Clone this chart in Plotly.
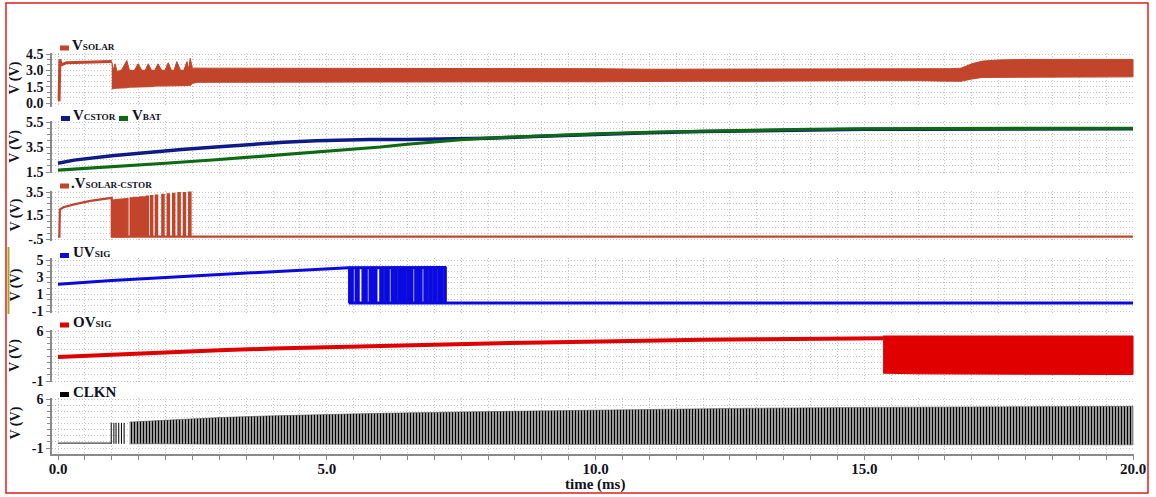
import plotly.graph_objects as go

# ---------------- data (time in ms, values in V) ----------------
# Panel 1: V_SOLAR
vsolar_t = [0.0, 0.02, 0.035, 0.06, 0.16, 0.4, 0.7, 1.0]
vsolar_v = [0.3, 0.3, 4.0, 3.5, 3.7, 3.72, 3.76, 3.8]
vsolar_band_t = [1.0, 1.03, 1.06, 1.10, 1.18, 1.28, 1.33, 1.42, 1.49, 1.56, 1.62, 1.68, 1.74, 1.80,
                 1.86, 1.93, 1.99, 2.05, 2.11, 2.16, 2.21, 2.28, 2.34, 2.40, 2.43, 2.46, 2.50, 2.6,
                 3.0, 4.0, 5.0, 6.0, 7.0, 8.0, 9.0, 10.0, 11.0, 12.0, 13.0, 14.0, 15.0, 16.0, 16.6,
                 16.8, 17.0, 17.2, 17.5, 18.0, 19.0, 20.0]
vsolar_band_hi = [3.8, 3.0, 3.6, 2.9, 3.0, 3.9, 3.0, 3.0, 3.6, 3.0, 3.0, 3.6, 3.0, 3.0,
                  3.6, 3.0, 3.0, 3.7, 3.0, 3.0, 3.8, 3.0, 3.0, 3.8, 3.1, 4.1, 3.2, 3.2,
                  3.2, 3.15, 3.15, 3.15, 3.15, 3.15, 3.15, 3.15, 3.1, 3.1, 3.1, 3.1, 3.1, 3.1, 3.15,
                  3.2, 3.6, 3.85, 3.95, 4.0, 4.0, 4.0]
vsolar_band_lo = [1.3, 1.3, 1.35, 1.35, 1.4, 1.4, 1.45, 1.5, 1.5, 1.5, 1.5, 1.5, 1.5, 1.55,
                  1.55, 1.55, 1.55, 1.55, 1.55, 1.55, 1.55, 1.55, 1.55, 1.6, 1.6, 1.6, 1.8, 1.9,
                  1.95, 1.95, 1.95, 1.95, 1.95, 1.95, 1.95, 1.95, 1.95, 2.0, 2.0, 2.0, 2.05, 2.05, 2.0,
                  2.0, 2.2, 2.35, 2.4, 2.4, 2.4, 2.4]

# Panel 2: V_CSTOR and V_BAT
vcstor_t = [0, 0.3, 1.0, 1.7, 2.3, 3.0, 3.6, 4.2, 4.8, 5.3, 5.8, 6.5, 7.2, 7.7, 8, 9, 10, 11,
            12, 13, 14, 15, 16, 17, 18, 19, 20]
vcstor_v = [2.2, 2.45, 2.8, 3.1, 3.3, 3.52, 3.72, 3.88, 4.0, 4.08, 4.1, 4.1, 4.12, 4.15, 4.2, 4.36,
            4.52, 4.64, 4.74, 4.82, 4.87, 4.91, 4.93, 4.94, 4.95, 4.95, 4.95]
vbat_t = [0, 1, 2, 3, 3.6, 4.5, 5.3, 6.0, 6.5, 7.0, 7.5, 8, 9, 10, 11, 12, 13, 14, 15, 16, 17,
          18, 19, 20]
vbat_v = [1.65, 1.9, 2.2, 2.5, 2.7, 3.0, 3.25, 3.5, 3.72, 3.92, 4.08, 4.22, 4.4, 4.55, 4.68,
          4.78, 4.86, 4.92, 4.96, 4.98, 5.0, 5.0, 5.0, 5.0]

# Panel 3: V_SOLAR-CSTOR
vsc_t = [0, 0.025, 0.035, 0.1, 0.3, 0.6, 1.0]
vsc_v = [-0.3, -0.3, 2.0, 2.2, 2.45, 2.75, 3.0]
vsc_low = -0.3
vsc_block_t = [1.0, 1.1, 1.2, 1.30]
vsc_block_hi = [2.8, 2.85, 2.9, 2.95]
vsc_pulse_t = [1.35, 1.41, 1.47, 1.53, 1.59, 1.65, 1.73, 1.82, 1.94, 2.04, 2.14, 2.24, 2.34, 2.44]
vsc_pulse_v = [2.95, 3.0, 3.0, 3.05, 3.05, 3.1, 3.15, 3.2, 3.25, 3.3, 3.35, 3.4, 3.4, 3.45]
vsc_pulse_w = 0.025

# Panel 4: UV_SIG
uv_t = [0, 0.5, 1, 2, 3, 4, 4.5, 5, 5.41]
uv_v = [2.15, 2.4, 2.6, 2.95, 3.3, 3.6, 3.8, 3.95, 4.1]
uv_high = 4.12
uv_low = -0.05
uv_high_end = 7.22
uv_bar_start = [5.41, 5.53, 5.66, 5.79, 5.99, 6.08, 6.20, 6.34, 6.49, 6.64, 6.81, 6.90, 6.98, 7.07, 7.18]
uv_bar_end = [5.49, 5.60, 5.75, 5.93, 6.05, 6.16, 6.31, 6.47, 6.60, 6.77, 6.88, 6.96, 7.05, 7.16, 7.22]

# Panel 5: OV_SIG
ov_t = [0, 1, 2, 3, 4, 5, 6, 7, 8, 9, 10, 11, 12, 13, 14, 15, 15.35]
ov_v = [2.35, 2.7, 3.0, 3.3, 3.55, 3.76, 3.95, 4.1, 4.25, 4.4, 4.55, 4.67, 4.77, 4.85, 4.92, 4.98, 5.0]
ov_band_t = [15.35, 16, 17, 18, 19, 20]
ov_band_hi = [5.3, 5.3, 5.3, 5.3, 5.3, 5.3]
ov_band_lo = [0.1, 0.0, -0.1, -0.1, -0.1, -0.1]

# Panel 6: CLKN
clk_base_t = [0, 0.99]
clk_base_v = [-0.3, -0.3]
clk_first_t = [0.99, 1.04, 1.08, 1.13, 1.18, 1.23]
clk_first_hi = 2.6
clk_first_lo = -0.4
clk_band_t = [1.33, 2, 3, 4, 5, 6, 7.5, 10, 12.5, 15, 17.5, 20]
clk_band_hi = [2.7, 3.0, 3.35, 3.6, 3.8, 3.95, 4.15, 4.45, 4.65, 4.8, 4.9, 4.95]
clk_band_lo = [-0.4, -0.4, -0.45, -0.45, -0.5, -0.5, -0.5, -0.5, -0.55, -0.55, -0.55, -0.55]

x_tickvals = [0, 5, 10, 15, 20]
x_ticktext = ["0.0", "5.0", "10.0", "15.0", "20.0"]

# ---------------- layout helpers ----------------
W, H = 1156, 497
ML, MR = 52, 22
PW = W - ML - MR
SERIF = "Liberation Serif"
TXT = "#111122"
GRID = "#c4c4c4"
AXC = "#8a8a8a"

C_SOLAR = "#c2452b"
C_CSTOR = "#0f1a8a"
C_BAT = "#0c6b12"
C_UV = "#0a0ae0"
C_OV = "#e00000"
C_CLK = "#000000"


def px2x(px):
    return (px - ML) / PW


def py2y(py):
    return 1 - py / H


fig = go.Figure()


def add(tr, row):
    tr.xaxis = "x" if row == 1 else f"x{row}"
    tr.yaxis = "y" if row == 1 else f"y{row}"
    tr.showlegend = False
    tr.hoverinfo = "skip"
    fig.add_trace(tr)


def band_poly(t, hi, lo):
    return list(t) + list(t)[::-1], list(hi) + list(lo)[::-1]


# Panel 1
add(go.Scatter(x=vsolar_t, y=vsolar_v, mode="lines", line=dict(color=C_SOLAR, width=3)), 1)
bx, by = band_poly(vsolar_band_t, vsolar_band_hi, vsolar_band_lo)
add(go.Scatter(x=bx, y=by, mode="lines", fill="toself", fillcolor=C_SOLAR,
               line=dict(color=C_SOLAR, width=1)), 1)

# Panel 2
add(go.Scatter(x=vcstor_t, y=vcstor_v, mode="lines", line=dict(color=C_CSTOR, width=3.5)), 2)
add(go.Scatter(x=vbat_t, y=vbat_v, mode="lines", line=dict(color=C_BAT, width=3.2)), 2)

# Panel 3
sx = list(vsc_t) + [vsc_block_t[0]]
sy = list(vsc_v) + [vsc_low]
for s, h in zip(vsc_pulse_t, vsc_pulse_v):
    sx += [s, s, s + vsc_pulse_w, s + vsc_pulse_w]
    sy += [vsc_low, h, h, vsc_low]
sx += [20]
sy += [vsc_low]
add(go.Scatter(x=sx, y=sy, mode="lines", line=dict(color=C_SOLAR, width=2.2)), 3)
bx, by = band_poly(vsc_block_t, vsc_block_hi, [vsc_low] * len(vsc_block_t))
add(go.Scatter(x=bx, y=by, mode="lines", fill="toself", fillcolor=C_SOLAR,
               line=dict(color=C_SOLAR, width=1.5)), 3)

# Panel 4
ux = list(uv_t) + [uv_high_end, None, uv_t[-1], 20]
uy = list(uv_v) + [uv_high, None, uv_low, uv_low]
add(go.Scatter(x=ux, y=uy, mode="lines", line=dict(color=C_UV, width=3)), 4)
barx, bary = [], []
for s, e in zip(uv_bar_start, uv_bar_end):
    barx += [s, e, e, s, s, None]
    bary += [uv_low, uv_low, uv_high, uv_high, uv_low, None]
add(go.Scatter(x=barx, y=bary, mode="lines", fill="toself", fillcolor=C_UV,
               line=dict(color=C_UV, width=1.5)), 4)

# Panel 5
add(go.Scatter(x=ov_t, y=ov_v, mode="lines", line=dict(color=C_OV, width=4)), 5)
bx, by = band_poly(ov_band_t, ov_band_hi, ov_band_lo)
add(go.Scatter(x=bx, y=by, mode="lines", fill="toself", fillcolor=C_OV,
               line=dict(color=C_OV, width=1)), 5)

# Panel 6
add(go.Scatter(x=clk_base_t, y=clk_base_v, mode="lines", line=dict(color="#444444", width=1.3)), 6)
cx, cy = [], []
for s in clk_first_t:
    cx += [s, s, None]
    cy += [clk_first_lo, clk_first_hi, None]
add(go.Scatter(x=cx, y=cy, mode="lines", line=dict(color=C_CLK, width=1)), 6)
bx, by = band_poly(clk_band_t, clk_band_hi, clk_band_lo)
add(go.Scatter(x=bx, y=by, mode="lines", fill="toself",
               fillpattern=dict(shape="|", size=3, solidity=0.35, fgcolor="#000000",
                                bgcolor="#9a9a9a", fillmode="replace"),
               line=dict(color="#555555", width=0.6)), 6)

# ---------------- axes ----------------
panels = [
    dict(a=((4.5, 54), (0.0, 103)), rng=[-0.35, 4.6], tv=[0, 1.5, 3, 4.5],
         tt=["0.0", "1.5", "3.0", "4.5"], g=0.5, g0=0),
    dict(a=((5.5, 122), (1.5, 172)), rng=[1.4, 5.6], tv=[1.5, 3.5, 5.5],
         tt=["1.5", "3.5", "5.5"], g=0.5, g0=1.5),
    dict(a=((3.5, 192), (-0.5, 239)), rng=[-0.7, 3.6], tv=[-0.5, 1.5, 3.5],
         tt=["-.5", "1.5", "3.5"], g=0.5, g0=-0.5),
    dict(a=((5, 260), (-1, 311)), rng=[-1.2, 5.2], tv=[-1, 1, 3, 5],
         tt=["-1", "1", "3", "5"], g=2 / 3, g0=-1),
    dict(a=((6, 331), (-1, 381)), rng=[-1.2, 6.2], tv=[-1, 6],
         tt=["-1", "6"], g=0.875, g0=-1),
    dict(a=((6, 399), (-1, 448)), rng=[-1.8, 6.2], tv=[-1, 6],
         tt=["-1", "6"], g=0.875, g0=-1),
]

X0, X1 = -0.1116, 20.018
layout = {}
for i, p in enumerate(panels, start=1):
    (va, pa), (vb, pb) = p["a"]
    sc = (pb - pa) / (vb - va)
    plo = pa + (p["rng"][0] - va) * sc
    phi = pa + (p["rng"][1] - va) * sc
    ykey = "yaxis" if i == 1 else f"yaxis{i}"
    xkey = "xaxis" if i == 1 else f"xaxis{i}"
    layout[ykey] = dict(
        domain=[py2y(plo), py2y(phi)], range=p["rng"], anchor="x" if i == 1 else f"x{i}",
        automargin=False,
        tickmode="array", tickvals=p["tv"], ticktext=p["tt"],
        tickfont=dict(family=SERIF, size=14, color=TXT, weight="bold"),
        showline=True, linecolor=AXC, linewidth=1.5, ticks="outside", ticklen=4, tickcolor=AXC,
        showgrid=True, gridcolor=GRID, griddash="1px,2px", gridwidth=1, zeroline=False,
        minor=dict(tickmode="linear", tick0=p["g0"], dtick=p["g"], showgrid=True, gridcolor=GRID,
                   griddash="1px,2px", ticks="outside", ticklen=3, tickcolor=AXC),
        fixedrange=True,
    )
    bottom = (i == len(panels))
    xa = dict(
        domain=[0, 1], range=[X0, X1], anchor="y" if i == 1 else f"y{i}",
        automargin=False,
        tickmode="array", tickvals=x_tickvals, ticktext=x_ticktext,
        showticklabels=bottom,
        tickfont=dict(family=SERIF, size=15, color=TXT, weight="bold"),
        showgrid=True, gridcolor=GRID, griddash="1px,2px", zeroline=False,
        showline=bottom, linecolor=AXC, linewidth=1.5,
        ticks="outside" if bottom else "", ticklen=5, tickcolor=AXC,
        ticklabelstandoff=-4 if bottom else 0,
        minor=dict(tickmode="linear", tick0=0, dtick=0.5, showgrid=True, gridcolor=GRID,
                   griddash="1px,2px", ticks="outside" if bottom else "", ticklen=5,
                   tickcolor=AXC),
        fixedrange=True,
    )
    if i > 1:
        xa["matches"] = "x"
    layout[xkey] = xa

# ---------------- annotations / shapes ----------------
annotations = []
shapes = []

# V (V) axis titles
for (va, pa), (vb, pb) in [p["a"] for p in panels]:
    annotations.append(dict(x=px2x(15), y=py2y((pa + pb) / 2), xref="paper", yref="paper",
                            xanchor="center", yanchor="middle",
                            text="<b>V (V)</b>", textangle=-90, showarrow=False,
                            font=dict(family=SERIF, size=14, color=TXT)))

annotations.append(dict(x=px2x(595), y=py2y(484), xref="paper", yref="paper",
                        xanchor="center", yanchor="middle",
                        text="<b>time (ms)</b>", showarrow=False,
                        font=dict(family=SERIF, size=15, color=TXT)))

# legend-like labels: (color, marker x0, marker y0, marker y1, text x, baseline, main, sub)
legend_items = [
    (C_SOLAR, 60, 45.5, 50.5, 70, 50.5, "V", "SOLAR"),
    (C_CSTOR, 61, 116, 121, 71, 120.7, "V", "CSTOR"),
    (C_BAT, 119, 116, 121, 130, 120.7, "V", "BAT"),
    (C_SOLAR, 60, 183.5, 188.5, 69, 189, ".V", "SOLAR-CSTOR"),
    (C_UV, 60, 253, 258, 71, 257.5, "UV", "SIG"),
    (C_OV, 60, 322.5, 327.5, 71, 328, "OV", "SIG"),
    (C_CLK, 60, 392, 397, 71, 398, "CLKN", ""),
]
for col, mx, my0, my1, tx, base, main, sub in legend_items:
    shapes.append(dict(type="rect", xref="paper", yref="paper",
                       x0=px2x(mx), x1=px2x(mx + 9), y0=py2y(my1), y1=py2y(my0),
                       fillcolor=col, line=dict(width=0)))
    txt = f"<b>{main}<span style='font-size:9.2px'>{sub}</span></b>" if sub else f"<b>{main}</b>"
    annotations.append(dict(x=px2x(tx), y=py2y(base + 4), xref="paper", yref="paper",
                            xanchor="left", yanchor="bottom", text=txt, showarrow=False,
                            font=dict(family=SERIF, size=15, color=TXT)))

# outer red frame and small olive mark on the left
shapes.append(dict(type="rect", xref="paper", yref="paper",
                   x0=px2x(6), x1=px2x(1148), y0=py2y(493), y1=py2y(3),
                   line=dict(color="#e21c1c", width=1.5), fillcolor="rgba(0,0,0,0)"))
shapes.append(dict(type="rect", xref="paper", yref="paper",
                   x0=px2x(7.5), x1=px2x(9.5), y0=py2y(314), y1=py2y(247),
                   line=dict(width=0), fillcolor="#a9a52a"))

fig.update_layout(
    width=W, height=H, autosize=False,
    margin=dict(l=ML, r=MR, t=0, b=0, pad=0),
    paper_bgcolor="white", plot_bgcolor="white",
    showlegend=False,
    annotations=annotations, shapes=shapes,
    **layout,
)

fig.write_html("out.html", config={"displayModeBar": False})
